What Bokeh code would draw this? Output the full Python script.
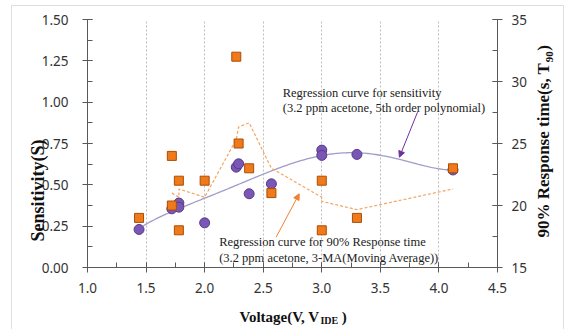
import numpy as np
from math import pi
from bokeh.plotting import figure
from bokeh.models import (Range1d, LinearAxis, SingleIntervalTicker, NumeralTickFormatter,
                          FixedTicker, CustomJSTickFormatter, Label, Arrow, NormalHead)
from bokeh.embed import file_html
from bokeh.resources import INLINE

# ---- data ----
sens_voltage = [1.44, 1.72, 1.78, 1.78, 2.00, 2.27, 2.29, 2.38, 2.57, 3.00, 3.00, 3.30, 4.12]
sensitivity = [0.23, 0.355, 0.39, 0.365, 0.27, 0.607, 0.627, 0.446, 0.506, 0.71, 0.678, 0.684, 0.59]

resp_voltage = [1.44, 1.72, 1.72, 1.78, 1.78, 2.00, 2.27, 2.29, 2.38, 2.57, 3.00, 3.00, 3.30, 4.12]
response_time = [19, 20, 24, 18, 22, 22, 32, 25, 23, 21, 18, 22, 19, 23]

x_title = ["Voltage(V, V", ")"]
x_title_sub = ["IDE"]
y_title = ["Sensitivity(S)"]
y2_title = ["90% Response time(s, T", ")"]
y2_title_sub = ["90"]
note1 = ["Regression curve for sensitivity", "(3.2 ppm acetone, 5th order polynomial)"]
note2 = ["Regression curve for 90% Response time", "(3.2 ppm acetone, 3-MA(Moving  Average))"]

# ---- trendlines derived from the data ----
coef = np.polyfit(sens_voltage, sensitivity, 5)
curve_x = np.linspace(min(sens_voltage), max(sens_voltage), 200)
curve_y = np.polyval(coef, curve_x)

ma_x = resp_voltage[2:]
ma_y = [sum(response_time[i - 2:i + 1]) / 3.0 for i in range(2, len(response_time))]

# ---- figure ----
p = figure(width=565, height=329, x_range=Range1d(1.0, 4.5), y_range=Range1d(0, 1.5),
           output_backend="svg", toolbar_location=None, title=None,
           min_border_left=87, min_border_right=62, min_border_top=19, min_border_bottom=62)
p.extra_y_ranges = {"rt": Range1d(15, 35)}
p.outline_line_color = None
p.background_fill_color = "white"
p.border_fill_color = None
# light outer chart border (drawn as CSS background behind the transparent border area)
p.styles = {
    "background-color": "white",
    "background-image": "linear-gradient(#dedede,#dedede), linear-gradient(#dedede,#dedede), "
                        "linear-gradient(#dedede,#dedede)",
    "background-position": "11px 5px, 11px 5px, 563px 5px",
    "background-size": "1px 100%, 553px 1px, 1px 100%",
    "background-repeat": "no-repeat",
}

AX = "#595959"
TICK_FONT = "Noto Sans"
SERIF = "Liberation Serif"

p.xaxis.ticker = SingleIntervalTicker(interval=0.5, num_minor_ticks=2)
p.xaxis.formatter = NumeralTickFormatter(format="0.0")
p.yaxis.ticker = SingleIntervalTicker(interval=0.25, num_minor_ticks=2)
p.yaxis.formatter = NumeralTickFormatter(format="0.00")

ax2 = LinearAxis(y_range_name="rt", ticker=SingleIntervalTicker(interval=5, num_minor_ticks=2))
p.add_layout(ax2, "right")

for ax in [p.xaxis[0], p.yaxis[0], ax2]:
    ax.axis_line_color = AX
    ax.major_tick_line_color = AX
    ax.minor_tick_line_color = AX
    ax.major_tick_in = 5
    ax.major_tick_out = 5
    ax.minor_tick_in = 5
    ax.minor_tick_out = 0
    ax.major_label_text_font = TICK_FONT
    ax.major_label_text_font_size = "13.5px"
    ax.major_label_text_color = "#333333"
p.yaxis[0].major_label_standoff = 14
p.xaxis[0].major_label_standoff = 10
ax2.major_label_standoff = 9


def title_axis(side, ticks, labels, size, standoff, orientation, y_range_name=None):
    kw = {}
    if y_range_name:
        kw["y_range_name"] = y_range_name
    a = LinearAxis(ticker=FixedTicker(ticks=ticks, minor_ticks=[]),
                   formatter=CustomJSTickFormatter(args=dict(labels=labels), code="return labels[index];"),
                   axis_line_color=None, major_tick_line_color=None, minor_tick_line_color=None,
                   major_tick_in=0, major_tick_out=0, minor_tick_in=0, minor_tick_out=0,
                   major_label_text_font=SERIF, major_label_text_font_style="bold",
                   major_label_text_font_size=size, major_label_text_color="#111111",
                   major_label_standoff=standoff, major_label_orientation=orientation, **kw)
    p.add_layout(a, side)
    return a


# helpers: pixel positions of the reference -> data coordinates
def px_x(px):
    return 1.0 + (px - 87.0) / 118.8


def px_y(py):
    return (267.0 - py) / 165.3


def px_rt(py):
    return 15.0 + (267.0 - py) / 12.4


# bottom title: "Voltage(V, V" + subscript "IDE" + ")"
fs1 = 15.0
w1 = 5.554 * fs1
title_axis("below", [px_x(240 + w1 / 2), px_x(240 + w1 + 17.8 + 3.75 + 2.5)], x_title, "15px", 13, "horizontal")
title_axis("below", [px_x(240 + w1 + 8.9)], x_title_sub, "10px", -13, "horizontal")

# left title
title_axis("left", [px_y(139)], y_title, "18px", 0, pi / 2)

# right title: "90% Response time(s, T" + subscript "90" + ")"  (labels start at their tick, reading upward)
fs2 = 17.0
w2 = 10.277 * fs2
title_axis("right", [px_rt(237), px_rt(237 - w2 - 12.0)], y2_title, "17px", 14, pi / 2, y_range_name="rt")
title_axis("right", [px_rt(237 - w2 - 0.5)], y2_title_sub, "11px", -16, pi / 2, y_range_name="rt")

p.xgrid.grid_line_color = "#BFBFBF"
p.xgrid.grid_line_dash = "2 2"
p.ygrid.grid_line_color = None

# trendlines
p.line(curve_x, curve_y, line_color="#A09CC8", line_width=1.3)
p.line(ma_x, ma_y, y_range_name="rt", line_color="#F4A460", line_dash="3 2", line_width=1.2)

# markers
p.scatter(sens_voltage, sensitivity, marker="circle", size=10,
          fill_color="#7B57B5", line_color="#563A8A", line_width=1)
p.scatter(resp_voltage, response_time, marker="square", size=9, y_range_name="rt",
          fill_color="#F07A1A", line_color="#A84E08", line_width=1)

# annotation texts
for i, t in enumerate(note1):
    p.add_layout(Label(x=px_x(285), y=px_y(93 + 14.7 * i), text=t, text_font=SERIF,
                       text_font_size="12.5px", text_color="#222222", text_baseline="middle"))
for i, t in enumerate(note2):
    p.add_layout(Label(x=px_x(220.5), y=px_y(241.7 + 16 * i), text=t, text_font=SERIF,
                       text_font_size="12.5px", text_color="#222222", text_baseline="middle"))

# arrows
p.add_layout(Arrow(x_start=px_x(421.7), y_start=px_y(111.7), x_end=px_x(403.3), y_end=px_y(156.7),
                   line_color="#7030A0", line_width=1,
                   end=NormalHead(size=6, fill_color="#7030A0", line_color="#7030A0")))
p.add_layout(Arrow(x_start=px_x(278.3), y_start=px_y(236.7), x_end=px_x(301.7), y_end=px_y(193.3),
                   line_color="#F08030", line_width=1,
                   end=NormalHead(size=6, fill_color="#F08030", line_color="#F08030")))

open("out.html", "w").write(file_html(p, INLINE))
